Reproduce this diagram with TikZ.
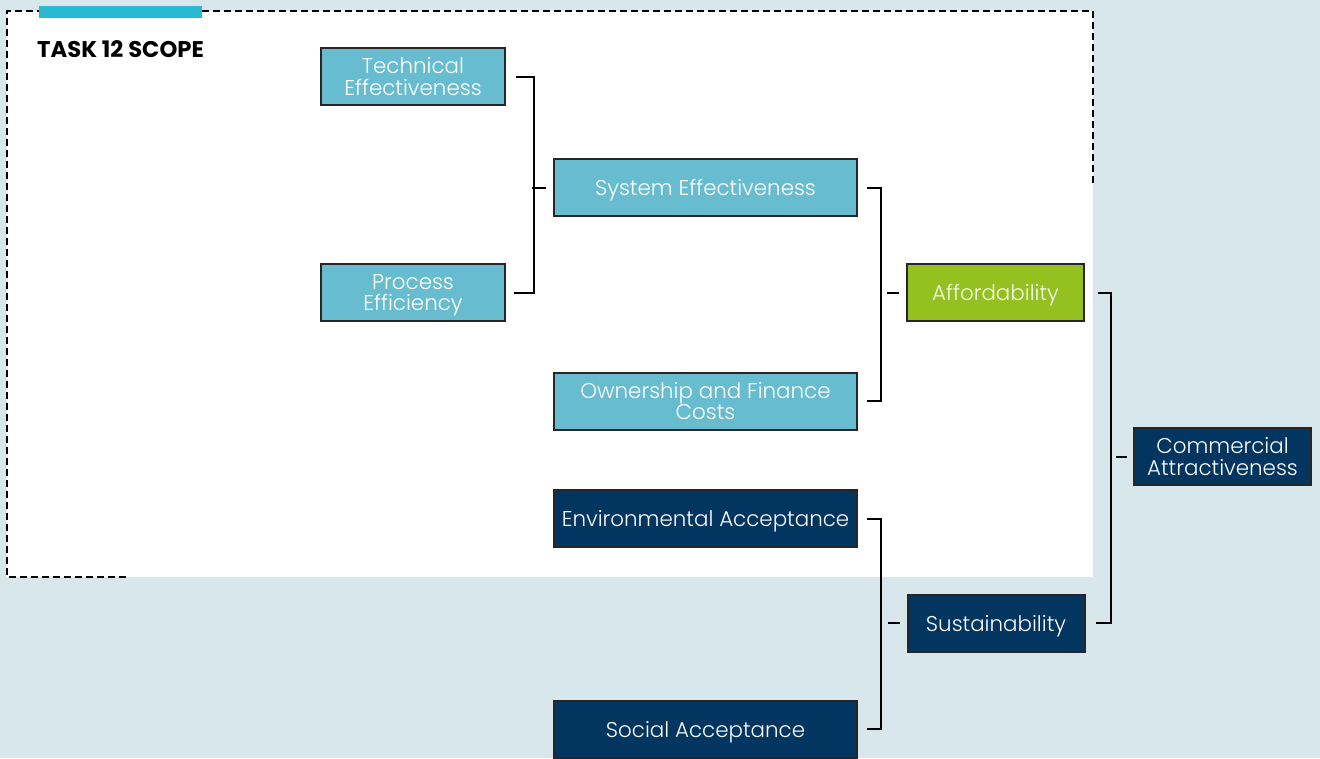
\documentclass[tikz,border=0pt]{standalone}
\usepackage{fontspec}
\setmainfont{Poppins}
\newfontfamily\boxfont{Poppins Light}
\usetikzlibrary{positioning}
\definecolor{bgblue}{HTML}{D7E7EC}
\definecolor{scopebar}{HTML}{29B9D0}
\definecolor{lightteal}{HTML}{67BDCF}
\definecolor{navy}{HTML}{02355F}
\definecolor{leafgreen}{HTML}{94C11F}
\tikzstyle{crit}=[draw=black!85, line width=2pt, align=center, inner sep=0pt,
    minimum height=57pt, text depth=0pt, font=\boxfont\fontsize{21.4}{21.5}\selectfont]
\tikzstyle{crit_light}=[crit, fill=lightteal, text=white]
\tikzstyle{crit_dark}=[crit, fill=navy, text=white!92!bgblue]
\tikzstyle{crit_green}=[crit, fill=leafgreen, text=white!92!leafgreen]
\tikzstyle{link}=[black, line width=2pt]

\begin{document}
\begin{tikzpicture}[x=1pt, y=-1pt]
\fill[bgblue] (0,0) rectangle (1320,758);
\useasboundingbox (0,0) rectangle (1320,758);
\fill[white] (7,11) rectangle (1093,577);
\draw[black, line width=2pt, dash pattern=on 7pt off 4pt] (1093,183) -- (1093,11) -- (7,11) -- (7,577) -- (128,577);
\fill[scopebar] (39,6) rectangle (202,18);
\node[anchor=base west, font=\bfseries\fontsize{22.7}{23}\selectfont, inner sep=0pt] (scope) at (37,57) {TASK 12 SCOPE};
\node[crit_light, minimum width=184pt] (tech) at (413,76.5) {Technical\\Effectiveness};
\node[crit_light, minimum width=184pt] (proc) at (413,292.5) {Process\\Efficiency};
\node[crit_light, minimum width=303pt] (syseff) at (705.5,187.5) {System Effectiveness};
\node[crit_light, minimum width=303pt] (own) at (705.5,401) {Ownership and Finance\\Costs};
\node[crit_dark, minimum width=303pt] (env) at (705.5,518.5) {Environmental Acceptance};
\node[crit_dark, minimum width=303pt] (soc) at (705.5,729) {Social Acceptance};
\node[crit_green, minimum width=177pt] (afford) at (995.5,292.5) {Affordability};
\node[crit_dark, minimum width=177pt] (sust) at (996,623) {Sustainability};
\node[crit_dark, minimum width=177pt] (comm) at (1222.5,456.5) {Commercial\\Attractiveness};
\draw[link] ([xshift=10]tech.east) -| ([xshift=28]proc.east) -- ([xshift=8]proc.east);
\draw[link] ([xshift=-21]syseff.west) -- ([xshift=-7]syseff.west);
\draw[link] ([xshift=9]syseff.east) -| ([xshift=23]own.east) -- ([xshift=9]own.east);
\draw[link] ([xshift=-19]afford.west) -- ([xshift=-7]afford.west);
\draw[link] ([xshift=9]env.east) -| ([xshift=23]soc.east) -- ([xshift=9]soc.east);
\draw[link] ([xshift=-19]sust.west) -- ([xshift=-7]sust.west);
\draw[link] ([xshift=13]afford.east) -| ([xshift=25]sust.east) -- ([xshift=10]sust.east);
\draw[link] ([xshift=-17]comm.west) -- ([xshift=-6]comm.west);
\end{tikzpicture}
\end{document}
